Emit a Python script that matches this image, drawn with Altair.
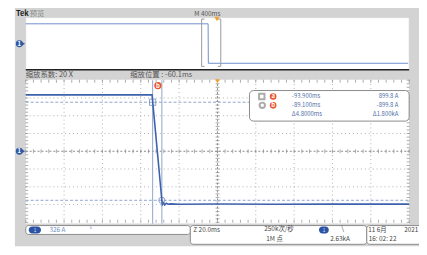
import altair as alt
import numpy as np
import pandas as pd

# ---------------- data ----------------
# zoomed window trace (lower panel): time [ms], current [A]
zoom_t = [-160.1, -120.0, -94.2, -93.9, -91.5, -89.1, -88.8, -88.3, -87.6, -86.8,
          -85.8, -84.5, -80.0, -60.0, -30.0, 0.0, 39.9]
zoom_a = [1035, 1035, 1035, 921, 12, -898, -975, -945, -985, -955,
          -972, -965, -972, -968, -972, -970, -970]

# overview trace (upper panel): time [ms], current [A]
over_t = [-2000, -92.5, -90.0, 2000]
over_a = [1035, 1035, -975, -975]

# cursors a / b
cur_name = ["a", "b"]
cur_t = [-93.9, -89.1]
cur_a = [899.8, -899.8]

# scope settings
ch1_div = 326        # A/div
zoom_div = 20.0      # ms/div
zoom_pos = -60.1     # ms
main_div = 400       # ms/div
zoom_factor = 20

# ---------------- layout helpers ----------------
OX, OY = 8, 8
FONT = "Noto Sans CJK SC"
one = pd.DataFrame({"k": [0]})

def px(v):
    return v - OX

def py(v):
    return v - OY

def box(x1, y1, x2, y2, fill, stroke=None, r=0, sw=1):
    kw = dict(fill=fill, cornerRadius=r)
    if stroke:
        kw.update(stroke=stroke, strokeWidth=sw)
    return alt.Chart(one).mark_rect(**kw).encode(
        x=alt.value(px(x1)), x2=alt.value(px(x2)),
        y=alt.value(py(y1)), y2=alt.value(py(y2)))

def hline(x1, x2, y, color, w=1, dash=None):
    kw = dict(color=color, strokeWidth=w)
    if dash:
        kw["strokeDash"] = dash
    return alt.Chart(one).mark_rule(**kw).encode(
        x=alt.value(px(x1)), x2=alt.value(px(x2)), y=alt.value(py(y)))

def txt(s, x, y, size=7, color="#555", align="left", weight="normal", font=FONT):
    return alt.Chart(one).mark_text(
        text=s, align=align, baseline="middle", fontSize=size, color=color,
        font=font, fontWeight=weight).encode(x=alt.value(px(x)), y=alt.value(py(y)))

# ---------------- scales ----------------
LX0, LX1, LY0, LY1 = 26, 415, 79.5, 223.7
UX0, UX1 = 26, 414

lo_t0, lo_t1 = zoom_pos - 5 * zoom_div, zoom_pos + 5 * zoom_div
lo_a = 4 * ch1_div
xs_low = alt.Scale(domain=[lo_t0, lo_t1], range=[px(LX0), px(LX1)], nice=False, zero=False)
ys_low = alt.Scale(domain=[-lo_a, lo_a], range=[py(LY1), py(LY0)], nice=False, zero=False)
xs_up = alt.Scale(domain=[-5 * main_div, 5 * main_div], range=[px(UX0), px(UX1)], nice=False, zero=False)
ys_up = alt.Scale(domain=[-1300, 1300], range=[py(68.8), py(17.0)], nice=False, zero=False)

def XL(f="t"):
    return alt.X(f"{f}:Q", scale=xs_low, axis=None)

def YL(f="a"):
    return alt.Y(f"{f}:Q", scale=ys_low, axis=None)

TRACE = "#3d62ad"
CURS = "#8ea5cc"
GRID = "#b0b0b0"
ORANGE = "#e8552f"
TRIG = "#f2a22c"
TXT_BLUE = "#4f6ea8"

layers = []

# background
layers.append(box(15, 0, 430, 248, "#d3d3d3"))

# ---------- upper (overview) panel ----------
layers.append(box(UX0, 16, UX1 + 1, 69, "#ffffff", stroke="#c8c8c8", sw=0.5))
layers.append(hline(UX0, UX1 + 1, 69, "#222222", w=1.5))
over_df = pd.DataFrame({"t": over_t, "a": over_a})
layers.append(alt.Chart(over_df).mark_line(color="#6f8fca", strokeWidth=1).encode(
    x=alt.X("t:Q", scale=xs_up, axis=None), y=alt.Y("a:Q", scale=ys_up, axis=None)))
br = pd.DataFrame({"t": [lo_t0, lo_t1]})
br["foot"] = br["t"] + np.array([30, -30])
layers.append(alt.Chart(br).mark_rule(color="#9a9a9a", strokeWidth=1).encode(
    x=alt.X("t:Q", scale=xs_up, axis=None), y=alt.value(py(17.5)), y2=alt.value(py(65.5))))
for yy in (17.5, 65.5):
    layers.append(alt.Chart(br).mark_rule(color="#9a9a9a", strokeWidth=1).encode(
        x=alt.X("t:Q", scale=xs_up, axis=None), x2="foot:Q", y=alt.value(py(yy))))
layers.append(alt.Chart(pd.DataFrame({"t": [0.0]})).mark_point(
    shape="triangle-down", filled=True, color=TRIG, size=28, opacity=1).encode(
    x=alt.X("t:Q", scale=xs_up, axis=None), y=alt.value(py(17.5))))

# ---------- lower (zoom) panel ----------
layers.append(box(LX0, 79, LX1, 225, "#ffffff"))

div_t = [lo_t0 + k * zoom_div for k in range(1, 10) if k != 5]
div_a = [k * ch1_div for k in (-3, -2, -1, 1, 2, 3)]
layers.append(alt.Chart(pd.DataFrame({"t": div_t})).mark_rule(
    color=GRID, strokeWidth=1, strokeDash=[1, 3]).encode(
    x=XL(), y=alt.value(py(LY0)), y2=alt.value(py(LY1))))
layers.append(alt.Chart(pd.DataFrame({"a": div_a})).mark_rule(
    color=GRID, strokeWidth=1, strokeDash=[1, 3]).encode(
    y=YL(), x=alt.value(px(LX0)), x2=alt.value(px(LX1))))
# centre cross
layers.append(alt.Chart(pd.DataFrame({"t": [zoom_pos]})).mark_rule(
    color="#8a8a8a", strokeWidth=1, strokeDash=[2, 2]).encode(
    x=XL(), y=alt.value(py(LY0)), y2=alt.value(py(LY1))))
layers.append(alt.Chart(pd.DataFrame({"a": [0.0]})).mark_rule(
    color="#8a8a8a", strokeWidth=1, strokeDash=[2, 2]).encode(
    y=YL(), x=alt.value(px(LX0)), x2=alt.value(px(LX1))))
# minor ticks
minor_t = pd.DataFrame({"t": [lo_t0 + k * zoom_div / 5 for k in range(51)]})
minor_a = pd.DataFrame({"a": [-lo_a + k * ch1_div / 5 for k in range(41)]})
for yv, sz in ((py(151.6), 4), (py(LY0) + 1, 3), (py(LY1) - 1, 3)):
    layers.append(alt.Chart(minor_t).mark_tick(
        orient="vertical", size=sz, thickness=1, color="#8a8a8a").encode(x=XL(), y=alt.value(yv)))
for xv, sz in ((px(220.6), 4), (px(LX0) + 1, 3), (px(LX1) - 1, 3)):
    layers.append(alt.Chart(minor_a).mark_tick(
        orient="horizontal", size=sz, thickness=1, color="#8a8a8a").encode(y=YL(), x=alt.value(xv)))

# cursors
cur_df = pd.DataFrame({"name": cur_name, "t": cur_t, "a": cur_a})
layers.append(alt.Chart(cur_df).mark_rule(color=CURS, strokeWidth=1).encode(
    x=XL(), y=alt.value(py(LY0)), y2=alt.value(py(225))))
layers.append(alt.Chart(cur_df).mark_rule(color=CURS, strokeWidth=1, strokeDash=[3, 2]).encode(
    y=YL(), x=alt.value(px(LX0)), x2=alt.value(px(LX1))))

# waveform
wave = pd.DataFrame({"t": zoom_t, "a": zoom_a})
layers.append(alt.Chart(wave).mark_line(color=TRACE, strokeWidth=1.6).encode(x=XL(), y=YL()))

# cursor markers
layers.append(alt.Chart(cur_df.iloc[[0]]).mark_point(
    shape="square", filled=False, color="#5a78b8", size=40, strokeWidth=1).encode(x=XL(), y=YL()))
layers.append(alt.Chart(cur_df.iloc[[1]]).mark_point(
    shape="circle", filled=False, color="#5a78b8", size=40, strokeWidth=1).encode(x=XL(), y=YL()))
layers.append(alt.Chart(cur_df.iloc[[1]]).mark_point(
    shape="circle", filled=True, color=ORANGE, size=55, opacity=1).encode(
    x=XL(), y=alt.value(py(85)), xOffset=alt.value(-4)))
layers.append(alt.Chart(cur_df.iloc[[1]]).mark_text(
    text="b", color="white", fontSize=6, fontWeight="bold", font=FONT, baseline="middle").encode(
    x=XL(), y=alt.value(py(85)), xOffset=alt.value(-4)))
layers.append(alt.Chart(pd.DataFrame({"t": [zoom_pos]})).mark_point(
    shape="triangle-down", filled=True, color=TRIG, size=22, opacity=1).encode(
    x=XL(), y=alt.value(py(80.5))))

# measurement read-out box
layers.append(box(253, 90, 415, 121, "#ffffff", stroke="#8a8a8a", r=4, sw=1))
layers.append(alt.Chart(one).mark_point(shape="square", filled=False, color="#888", size=30).encode(
    x=alt.value(px(265.5)), y=alt.value(py(96))))
layers.append(alt.Chart(one).mark_point(shape="circle", filled=False, color="#888", size=30).encode(
    x=alt.value(px(266)), y=alt.value(py(105))))
for i, yy in enumerate((96, 105)):
    layers.append(alt.Chart(one).mark_point(shape="circle", filled=True, color=ORANGE, size=45, opacity=1).encode(
        x=alt.value(px(277)), y=alt.value(py(yy))))
    layers.append(txt(cur_name[i], 277, yy, size=6, color="white", align="center", weight="bold"))
    layers.append(txt(f"{cur_t[i]:.3f}ms", 296, yy, size=6, color=TXT_BLUE))
    layers.append(txt(f"{cur_a[i]:.1f} A", 404, yy, size=6, color=TXT_BLUE, align="right"))
layers.append(txt(f"Δ{cur_t[1] - cur_t[0]:.4f}ms", 296, 114, size=6, color=TXT_BLUE))
layers.append(txt(f"Δ{(cur_a[0] - cur_a[1]) / 1000:.3f}kA", 404, 114, size=6, color=TXT_BLUE, align="right"))

# channel ground markers
for yy in (42.5, 151.6):
    layers.append(alt.Chart(one).mark_point(shape="triangle-right", filled=True, color="#2f5aa5", size=30, opacity=1).encode(
        x=alt.value(px(23)), y=alt.value(py(yy))))
    layers.append(alt.Chart(one).mark_point(shape="circle", filled=True, color="#2f5aa5", size=50, opacity=1).encode(
        x=alt.value(px(19.5)), y=alt.value(py(yy))))
    layers.append(txt("1", 19.5, yy, size=6, color="white", align="center", weight="bold"))

# top labels (kept inside the drawable area)
layers.append(txt("Tek", 16, 12.6, size=7.5, color="#222", weight="bold"))
layers.append(txt("预览", 30, 12.6, size=7.5, color="#8a8a8a"))
layers.append(txt(f"M {main_div}ms", 197, 12.6, size=6.5, color="#555"))
layers.append(txt(f"缩放系数: {zoom_factor} X", 26, 74, size=7.5, color="#555"))
layers.append(txt(f"缩放位置 : {zoom_pos}ms", 132, 74, size=7.5, color="#555"))

# bottom status bars
layers.append(box(26, 227, 193, 236, "#ffffff", stroke="#8a8a8a", r=3))
layers.append(box(193, 227, 372, 246, "#ffffff", stroke="#8a8a8a", r=3))
layers.append(box(372, 227, 432, 246, "#ffffff", stroke="#8a8a8a", r=3))
layers.append(box(29, 228, 41.5, 235, "#2a54a3", r=3.5))
layers.append(txt("1", 35.3, 231.5, size=5.5, color="#c8d6f0", align="center"))
layers.append(txt(f"{ch1_div} A", 50, 231.5, size=6.5, color="#6f8cc0"))
layers.append(txt("ᵇ", 91, 231, size=7, color="#6f8cc0"))
layers.append(txt(f"Z {zoom_div:.1f}ms", 196, 231.5, size=6.5, color="#444"))
layers.append(txt("250k次/秒", 268, 231, size=6.5, color="#444"))
layers.append(txt("1M 点", 270, 240.5, size=6.5, color="#444"))
layers.append(box(323.5, 228, 333.5, 235, "#2a54a3", r=3.5))
layers.append(txt("1", 328.5, 231.5, size=5.5, color="#c8d6f0", align="center"))
layers.append(txt("\\", 346, 231, size=7, color="#444"))
layers.append(txt("2.63kA", 355, 240.5, size=6.5, color="#444", align="right"))
layers.append(txt("11 6月", 373.5, 231.5, size=6.5, color="#444"))
layers.append(txt("2021", 410, 231.5, size=6.5, color="#444"))
layers.append(txt("16: 02: 22", 374, 240.5, size=6.5, color="#444"))

chart = alt.layer(*layers).resolve_scale(x="independent", y="independent").properties(
    width=417, height=240, padding=0, autosize=alt.AutoSizeParams(type="none"),
    background="#ffffff").configure_view(strokeWidth=0)

chart.save("out.html", embed_options={"renderer": "svg", "actions": False})
